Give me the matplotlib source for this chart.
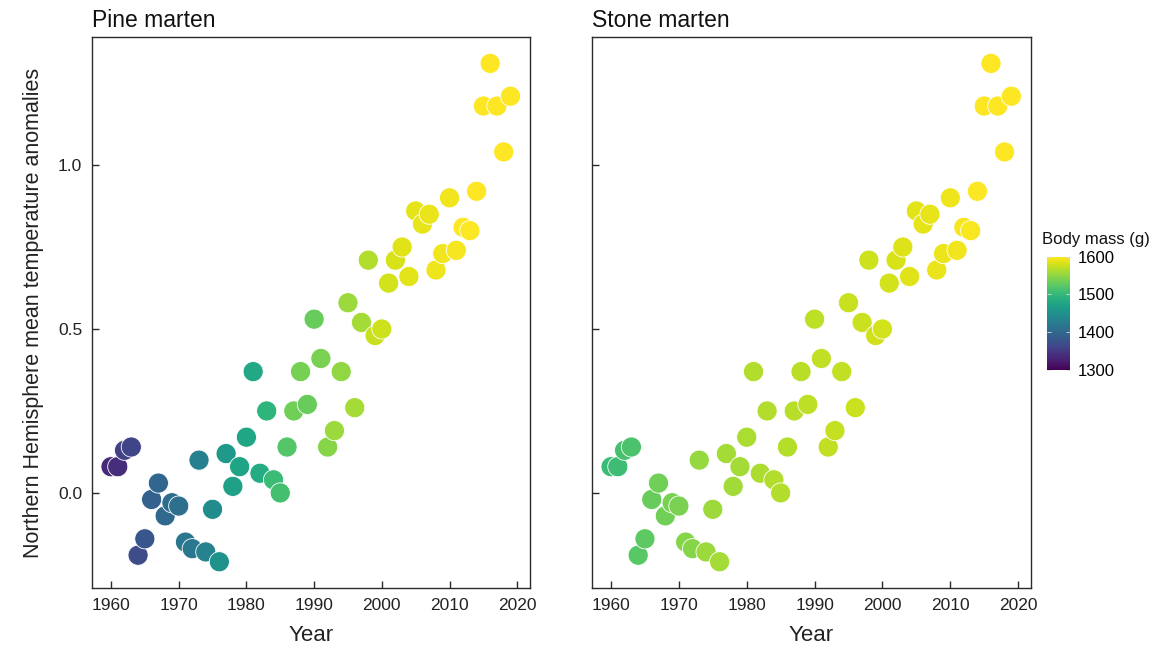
import matplotlib
matplotlib.use("Agg")
import matplotlib.pyplot as plt
import numpy as np

plt.rcParams['font.family'] = ['Liberation Sans', 'DejaVu Sans']

years = list(range(1960, 2020))
temp_anomaly = [0.08, 0.08, 0.13, 0.14, -0.19, -0.14, -0.02, 0.03, -0.07, -0.03,
                -0.04, -0.15, -0.17, 0.10, -0.18, -0.05, -0.21, 0.12, 0.02, 0.08,
                0.17, 0.37, 0.06, 0.25, 0.04, 0.00, 0.14, 0.25, 0.37, 0.27,
                0.53, 0.41, 0.14, 0.19, 0.37, 0.58, 0.26, 0.52, 0.71, 0.48,
                0.50, 0.64, 0.71, 0.75, 0.66, 0.86, 0.82, 0.85, 0.68, 0.73,
                0.90, 0.74, 0.81, 0.80, 0.92, 1.18, 1.31, 1.18, 1.04, 1.21]
pine_mass = [1335, 1338, 1358, 1362, 1368, 1380, 1392, 1398, 1400, 1406,
             1408, 1418, 1420, 1430, 1432, 1445, 1452, 1462, 1470, 1475,
             1478, 1480, 1485, 1495, 1505, 1510, 1520, 1535, 1537, 1530,
             1530, 1540, 1545, 1555, 1550, 1555, 1560, 1560, 1565, 1575,
             1577, 1580, 1582, 1585, 1586, 1588, 1589, 1590, 1592, 1593,
             1594, 1596, 1598, 1598, 1599, 1600, 1600, 1600, 1600, 1600]
stone_mass = [1505, 1507, 1512, 1515, 1522, 1525, 1530, 1535, 1535, 1538,
              1540, 1545, 1546, 1553, 1555, 1556, 1560, 1560, 1558, 1560,
              1562, 1565, 1563, 1565, 1566, 1566, 1567, 1568, 1569, 1570,
              1570, 1571, 1572, 1574, 1573, 1575, 1576, 1576, 1577, 1578,
              1579, 1580, 1582, 1584, 1585, 1587, 1588, 1589, 1590, 1591,
              1592, 1594, 1596, 1597, 1598, 1600, 1600, 1600, 1600, 1600]
panel_titles = ["Pine marten", "Stone marten"]
x_ticks = [1960, 1970, 1980, 1990, 2000, 2010, 2020]
y_ticks = [0.0, 0.5, 1.0]
cbar_ticks = [1300, 1400, 1500, 1600]

fig = plt.figure(figsize=(11.62, 6.48), dpi=100)
ax1 = fig.add_axes([0.0792, 0.0926, 0.377, 0.850])
ax2 = fig.add_axes([0.5095, 0.0926, 0.3778, 0.850], sharey=ax1)

spine_col = '#2a2a2a'
sc = None
for ax, mass, title in zip([ax1, ax2], [pine_mass, stone_mass], panel_titles):
    sc = ax.scatter(years, temp_anomaly, c=mass, cmap='viridis', vmin=1300, vmax=1600,
                    s=210, edgecolors='white', linewidths=0.6, zorder=3)
    ax.set_xlim(1957.2, 2021.9)
    ax.set_ylim(-0.29, 1.39)
    ax.set_xticks(x_ticks)
    ax.set_yticks(y_ticks)
    ax.tick_params(direction='in', length=5, width=1, color=spine_col,
                   labelsize=12.5, labelcolor='#222222', pad=7)
    for sp in ax.spines.values():
        sp.set_color(spine_col)
        sp.set_linewidth(1.0)
    ax.set_xlabel("Year", fontsize=16, color='#222222', labelpad=9)
    ax.set_title(title, loc='left', fontsize=16.5, color='#111111', pad=7)

ax1.set_ylabel("Northern Hemisphere mean temperature anomalies", fontsize=15.5,
               color='#222222', labelpad=10)
ax2.tick_params(labelleft=False)

cax = fig.add_axes([0.901, 0.429, 0.0195, 0.175])
cb = fig.colorbar(sc, cax=cax, ticks=cbar_ticks)
cb.outline.set_visible(False)
cb.ax.yaxis.set_ticks_position('both')
cb.ax.tick_params(direction='in', length=3, width=0.6, color='#dddddd', labelsize=12,
                  pad=6, labelleft=False, labelright=True)
fig.text(1042 / 1162, 1 - 244 / 648, "Body mass (g)", ha='left', va='baseline',
         fontsize=12, color='#111111')

fig.savefig("out.png", dpi=100)
